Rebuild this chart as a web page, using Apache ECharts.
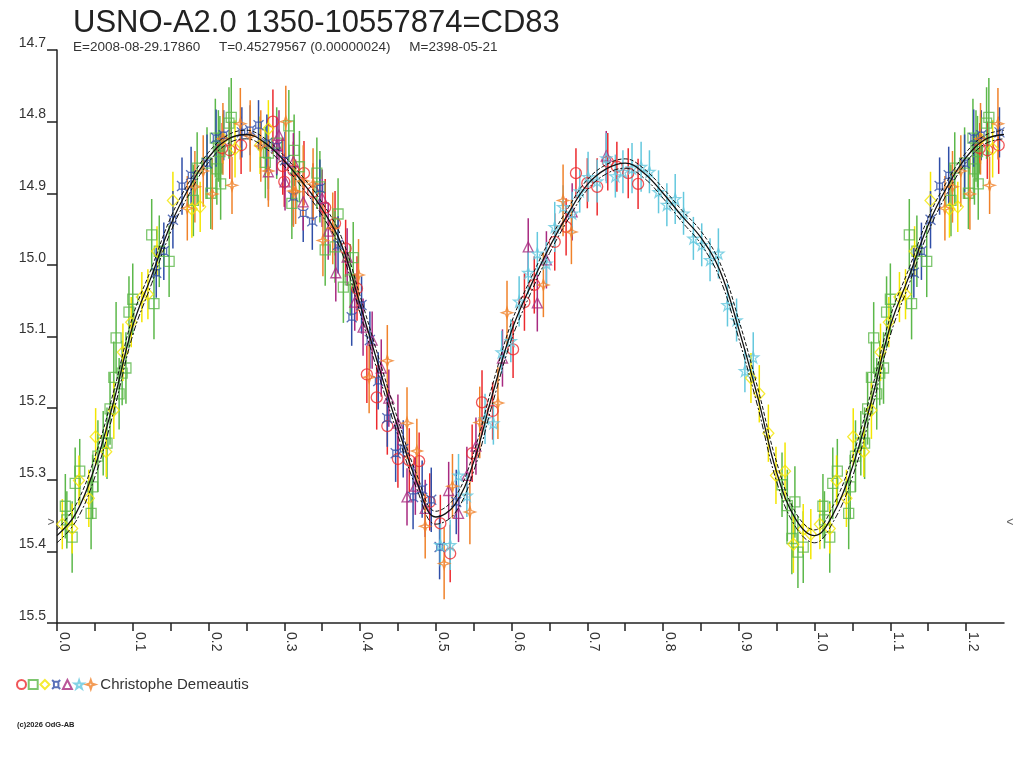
<!DOCTYPE html>
<html>
<head>
<meta charset="utf-8">
<script src="https://cdn.jsdelivr.net/npm/echarts@6/dist/echarts.min.js"></script>
<style>
html,body{margin:0;padding:0;background:#fff}
#main{width:1024px;height:768px}
</style>
</head>
<body>
<div id="main"></div>
<script>
// === 標題與文字 ===
const TITLE='USNO-A2.0 1350-10557874=CD83';
const SUBTITLE='E=2008-08-29.17860     T=0.45279567 (0.00000024)     M=2398-05-21';
const OBSERVER='Christophe Demeautis';
const FOOTER='(c)2026 OdG-AB';
const LIMIT_MAG=15.36;

// === 擬合曲線 (phase, mag) ===
const curvePhase=[0,0.025,0.05,0.075,0.1,0.125,0.15,0.175,0.2,0.225,0.25,0.275,0.3,0.325,0.35,0.375,0.4,0.425,0.45,0.475,0.5,0.525,0.55,0.575,0.6,0.625,0.65,0.675,0.7,0.725,0.75,0.775,0.8,0.825,0.85,0.875,0.9,0.925,0.95,0.975,1.0];
const curveMid=[15.378,15.347,15.282,15.190,15.085,15.015,14.944,14.891,14.850,14.825,14.818,14.830,14.855,14.886,14.922,14.970,15.055,15.143,15.227,15.303,15.352,15.335,15.275,15.180,15.092,15.030,14.975,14.928,14.888,14.866,14.858,14.872,14.900,14.932,14.962,15.008,15.090,15.185,15.290,15.355,15.378];
const curveHi=[15.370,15.335,15.268,15.176,15.072,15.004,14.934,14.883,14.843,14.819,14.812,14.824,14.848,14.878,14.913,14.960,15.043,15.131,15.216,15.293,15.344,15.325,15.262,15.167,15.080,15.020,14.966,14.920,14.881,14.860,14.852,14.866,14.893,14.924,14.953,14.997,15.077,15.172,15.276,15.346,15.370];
const curveLo=[15.388,15.358,15.296,15.204,15.098,15.026,14.954,14.900,14.857,14.831,14.824,14.837,14.862,14.894,14.931,14.980,15.067,15.155,15.238,15.313,15.362,15.347,15.288,15.193,15.104,15.040,14.984,14.936,14.895,14.873,14.865,14.879,14.907,14.940,14.971,15.019,15.103,15.198,15.303,15.366,15.388];

// === 觀測點 [phase, mag, err] ===
const circles=[[0.218,14.837,0.035],[0.228,14.84,0.04],[0.243,14.833,0.04],[0.285,14.8,0.045],[0.298,14.862,0.04],[0.3,14.884,0.035],[0.312,14.868,0.04],[0.326,14.872,0.045],[0.338,14.898,0.04],[0.354,14.92,0.04],[0.367,14.942,0.045],[0.381,14.977,0.04],[0.396,15.033,0.045],[0.409,15.153,0.04],[0.422,15.185,0.045],[0.436,15.225,0.04],[0.45,15.271,0.04],[0.465,15.273,0.045],[0.478,15.274,0.04],[0.492,15.331,0.04],[0.506,15.361,0.04],[0.519,15.403,0.04],[0.548,15.263,0.04],[0.561,15.192,0.045],[0.575,15.204,0.04],[0.602,15.118,0.04],[0.617,15.052,0.04],[0.63,15.028,0.04],[0.657,14.968,0.04],[0.672,14.947,0.04],[0.685,14.872,0.035],[0.7,14.886,0.035],[0.713,14.891,0.04],[0.727,14.856,0.04],[0.739,14.863,0.035],[0.754,14.872,0.035],[0.767,14.887,0.035]];
const squares=[[0.011,15.337,0.045],[0.013,15.356,0.04],[0.02,15.38,0.05],[0.024,15.305,0.05],[0.03,15.288,0.045],[0.045,15.347,0.05],[0.047,15.31,0.045],[0.054,15.267,0.05],[0.061,15.249,0.045],[0.066,15.249,0.05],[0.07,15.201,0.05],[0.075,15.157,0.05],[0.078,15.102,0.05],[0.082,15.18,0.05],[0.086,15.151,0.045],[0.091,15.144,0.05],[0.095,15.066,0.05],[0.1,15.048,0.05],[0.125,14.958,0.05],[0.128,15.054,0.05],[0.135,14.981,0.05],[0.148,14.995,0.05],[0.18,14.91,0.05],[0.185,14.865,0.05],[0.198,14.858,0.05],[0.203,14.9,0.05],[0.209,14.823,0.055],[0.211,14.866,0.05],[0.213,14.834,0.05],[0.215,14.842,0.05],[0.216,14.887,0.05],[0.227,14.802,0.05],[0.23,14.794,0.055],[0.275,14.857,0.05],[0.279,14.844,0.05],[0.29,14.83,0.05],[0.306,14.806,0.05],[0.31,14.914,0.05],[0.313,14.84,0.05],[0.32,14.863,0.05],[0.343,14.872,0.05],[0.347,14.891,0.05],[0.354,14.979,0.05],[0.367,14.975,0.05],[0.371,14.929,0.05],[0.378,15.031,0.05],[0.387,15.021,0.05],[0.391,14.99,0.05],[0.957,15.307,0.045],[0.964,15.336,0.05],[0.97,15.382,0.05],[0.974,15.331,0.05],[0.978,15.401,0.05],[0.985,15.394,0.05]];
const diamonds=[[0.007,15.362,0.035],[0.02,15.368,0.035],[0.029,15.301,0.035],[0.042,15.326,0.04],[0.051,15.24,0.04],[0.065,15.261,0.035],[0.075,15.203,0.04],[0.087,15.122,0.04],[0.098,15.08,0.035],[0.112,15.045,0.035],[0.12,15.041,0.035],[0.132,14.981,0.035],[0.153,14.91,0.04],[0.178,14.922,0.04],[0.189,14.919,0.035],[0.219,14.824,0.035],[0.235,14.838,0.04],[0.268,14.833,0.04],[0.279,14.81,0.04],[0.916,15.158,0.035],[0.927,15.18,0.04],[0.939,15.235,0.04],[0.949,15.294,0.04],[0.961,15.288,0.04],[0.972,15.39,0.04],[0.985,15.369,0.035],[0.995,15.376,0.035]];
const crosses=[[0.131,15.011,0.035],[0.141,14.981,0.04],[0.153,14.937,0.04],[0.165,14.89,0.04],[0.177,14.875,0.04],[0.198,14.858,0.04],[0.21,14.823,0.04],[0.22,14.819,0.035],[0.244,14.815,0.035],[0.255,14.812,0.035],[0.266,14.805,0.035],[0.277,14.83,0.04],[0.29,14.835,0.04],[0.301,14.854,0.04],[0.312,14.905,0.04],[0.325,14.928,0.04],[0.337,14.939,0.04],[0.347,14.893,0.04],[0.371,14.972,0.04],[0.389,15.073,0.04],[0.402,15.056,0.04],[0.413,15.105,0.04],[0.424,15.162,0.04],[0.436,15.214,0.04],[0.447,15.263,0.04],[0.457,15.257,0.04],[0.47,15.324,0.045],[0.482,15.313,0.04],[0.494,15.328,0.045],[0.505,15.394,0.045],[0.527,15.331,0.045]];
const triangles=[[0.279,14.87,0.04],[0.29,14.833,0.04],[0.293,14.819,0.035],[0.301,14.884,0.04],[0.312,14.856,0.04],[0.325,14.912,0.04],[0.35,14.907,0.04],[0.358,14.953,0.04],[0.368,15.011,0.04],[0.383,14.989,0.04],[0.393,15.052,0.04],[0.404,15.087,0.04],[0.416,15.105,0.04],[0.428,15.144,0.04],[0.438,15.186,0.04],[0.45,15.221,0.04],[0.462,15.324,0.04],[0.473,15.309,0.04],[0.486,15.34,0.04],[0.517,15.315,0.04],[0.53,15.347,0.04],[0.541,15.294,0.04],[0.553,15.253,0.04],[0.588,15.13,0.04],[0.622,14.975,0.04],[0.634,15.053,0.04],[0.646,14.993,0.04],[0.68,14.926,0.04],[0.725,14.848,0.035]];
const stars=[[0.506,15.391,0.03],[0.519,15.391,0.035],[0.53,15.294,0.03],[0.541,15.322,0.03],[0.565,15.215,0.035],[0.576,15.221,0.03],[0.587,15.122,0.03],[0.599,15.106,0.03],[0.61,15.051,0.035],[0.622,15.011,0.03],[0.634,14.984,0.03],[0.646,14.998,0.03],[0.657,14.947,0.035],[0.668,14.919,0.03],[0.68,14.928,0.03],[0.69,14.897,0.03],[0.701,14.877,0.035],[0.713,14.883,0.03],[0.725,14.851,0.035],[0.737,14.876,0.03],[0.747,14.87,0.03],[0.759,14.865,0.035],[0.771,14.863,0.035],[0.782,14.87,0.03],[0.794,14.898,0.03],[0.805,14.916,0.03],[0.816,14.908,0.035],[0.827,14.928,0.03],[0.84,14.963,0.03],[0.851,14.972,0.03],[0.862,14.993,0.03],[0.873,14.984,0.035],[0.885,15.056,0.03],[0.897,15.077,0.03],[0.908,15.148,0.03],[0.919,15.129,0.035]];
const sparks=[[0.172,14.921,0.045],[0.182,14.891,0.05],[0.193,14.869,0.05],[0.205,14.901,0.05],[0.219,14.824,0.05],[0.231,14.889,0.04],[0.242,14.803,0.05],[0.255,14.82,0.05],[0.269,14.834,0.05],[0.279,14.869,0.05],[0.302,14.8,0.05],[0.312,14.897,0.05],[0.315,14.898,0.045],[0.325,14.883,0.05],[0.338,14.887,0.05],[0.351,14.966,0.05],[0.364,14.949,0.05],[0.398,15.014,0.05],[0.412,15.157,0.05],[0.436,15.134,0.05],[0.462,15.221,0.05],[0.475,15.26,0.045],[0.486,15.365,0.045],[0.511,15.417,0.05],[0.522,15.309,0.045],[0.545,15.345,0.045],[0.558,15.22,0.05],[0.582,15.193,0.05],[0.594,15.067,0.045],[0.642,15.028,0.045],[0.668,14.91,0.05],[0.679,14.954,0.045]];

// === 符號與顏色 ===
const GROUPS=[
  {name:'g1',data:circles,color:'#ec2a2e',symbol:'circle',size:11},
  {name:'g2',data:squares,color:'#5cb84a',symbol:'rect',size:10},
  {name:'g3',data:diamonds,color:'#f4e600',symbol:'diamond',size:[11,12]},
  {name:'g4',data:crosses,color:'#2f4ea8',symbol:'path://M5,4 L15,4 L15,16 L5,16 Z M1,0 L5,4 M19,0 L15,4 M19,20 L15,16 M1,20 L5,16',size:10},
  {name:'g5',data:triangles,color:'#a82a80',symbol:'triangle',size:10},
  {name:'g6',data:stars,color:'#64c8de',symbol:'path://M10,0 L12.4,7.2 L20,7.3 L13.9,11.8 L16.2,19 L10,14.6 L3.8,19 L6.1,11.8 L0,7.3 L7.6,7.2 Z',size:11},
  {name:'g7',data:sparks,color:'#f0822a',symbol:'path://M10,0 L12.5,7.5 L20,10 L12.5,12.5 L10,20 L7.5,12.5 L0,10 L7.5,7.5 Z',size:11}
];

// === 相位折疊：0–0.25 重複到 1–1.25 ===
function fold(arr){
  var out=arr.slice();
  arr.forEach(function(p){ if(p[0]<=0.25) out.push([p[0]+1].concat(p.slice(1))); });
  return out;
}
function curveData(vals){
  var pts=curvePhase.map(function(ph,i){return [ph,vals[i]]});
  return fold(pts);
}

var series=[];
GROUPS.forEach(function(g){
  var d=fold(g.data);
  series.push({
    type:'custom',silent:true,z:2,
    data:d,encode:{x:0,y:1},
    renderItem:function(params,api){
      var a=api.coord([api.value(0),api.value(1)-api.value(2)]);
      var b=api.coord([api.value(0),api.value(1)+api.value(2)]);
      return {type:'line',shape:{x1:a[0],y1:a[1],x2:b[0],y2:b[1]},style:{stroke:g.color,lineWidth:1.5}};
    }
  });
  series.push({
    name:g.name,type:'scatter',z:3,data:d.map(function(p){return [p[0],p[1]]}),
    symbol:g.symbol,symbolSize:g.size,
    itemStyle:{color:'rgba(255,255,255,0)',borderColor:g.color,borderWidth:1.3}
  });
});
[[curveHi,'dashed'],[curveLo,[6,2,2,2]],[curveMid,'solid']].forEach(function(c){
  series.push({
    type:'line',z:4,silent:true,data:curveData(c[0]),smooth:0.4,showSymbol:false,
    lineStyle:{color:'#111',width:c[1]==='solid'?1.3:1,type:c[1]}
  });
});
// 亮度極限標記 > <
series.push({
  type:'scatter',z:5,silent:true,clip:false,symbol:'circle',symbolSize:1,
  itemStyle:{color:'rgba(255,255,255,0)'},
  data:[{value:[0,LIMIT_MAG],label:{formatter:'>',position:'left',distance:2}},
        {value:[1.25,LIMIT_MAG],label:{formatter:'<',position:'right',distance:2}}],
  label:{show:true,fontSize:12,color:'#333',fontFamily:'Liberation Sans'}
});

var chart=echarts.init(document.getElementById('main'),null,{renderer:'canvas'});
chart.setOption({
  animation:false,
  backgroundColor:'#fff',
  textStyle:{fontFamily:'Liberation Sans'},
  title:{
    text:TITLE,subtext:SUBTITLE,left:73,top:8,itemGap:1,padding:0,
    textStyle:{fontSize:31,fontWeight:'normal',color:'#222',fontFamily:'Liberation Sans'},
    subtextStyle:{fontSize:13.5,color:'#333',fontFamily:'Liberation Sans'}
  },
  legend:{
    left:16,top:677,padding:0,itemWidth:9,itemHeight:9,itemGap:0.7,selectedMode:false,
    data:GROUPS.map(function(g){return g.name}),
    formatter:function(n){return n==='g7'?OBSERVER:''},
    textStyle:{fontSize:15,color:'#333',fontFamily:'Liberation Sans'}
  },
  grid:{left:57,right:20,top:50,bottom:145,containLabel:false},
  xAxis:{
    type:'value',min:0,max:1.25,interval:0.05,
    axisLine:{show:true,onZero:false,lineStyle:{color:'#222',width:1.5}},
    axisTick:{show:true,length:8,inside:false,lineStyle:{color:'#222',width:1.5}},
    splitLine:{show:false},
    axisLabel:{rotate:-90,margin:9,verticalAlign:'bottom',fontSize:14,color:'#333',showMaxLabel:false,
      formatter:function(v){return Math.round(v*100)%10===0?v.toFixed(1):''}}
  },
  yAxis:{
    type:'value',inverse:true,min:14.7,max:15.5,interval:0.1,
    axisLine:{show:true,lineStyle:{color:'#222',width:1.5}},
    axisTick:{show:true,length:10,inside:false,lineStyle:{color:'#222',width:1.5}},
    splitLine:{show:false},
    axisLabel:{margin:11,verticalAlign:'bottom',fontSize:14,color:'#333',
      formatter:function(v){return v.toFixed(1)}}
  },
  graphic:[{type:'text',left:17,top:721,style:{text:FOOTER,fontSize:7.5,fontWeight:'bold',fill:'#222',fontFamily:'Liberation Sans'}}],
  series:series
});
</script>
</body>
</html>
